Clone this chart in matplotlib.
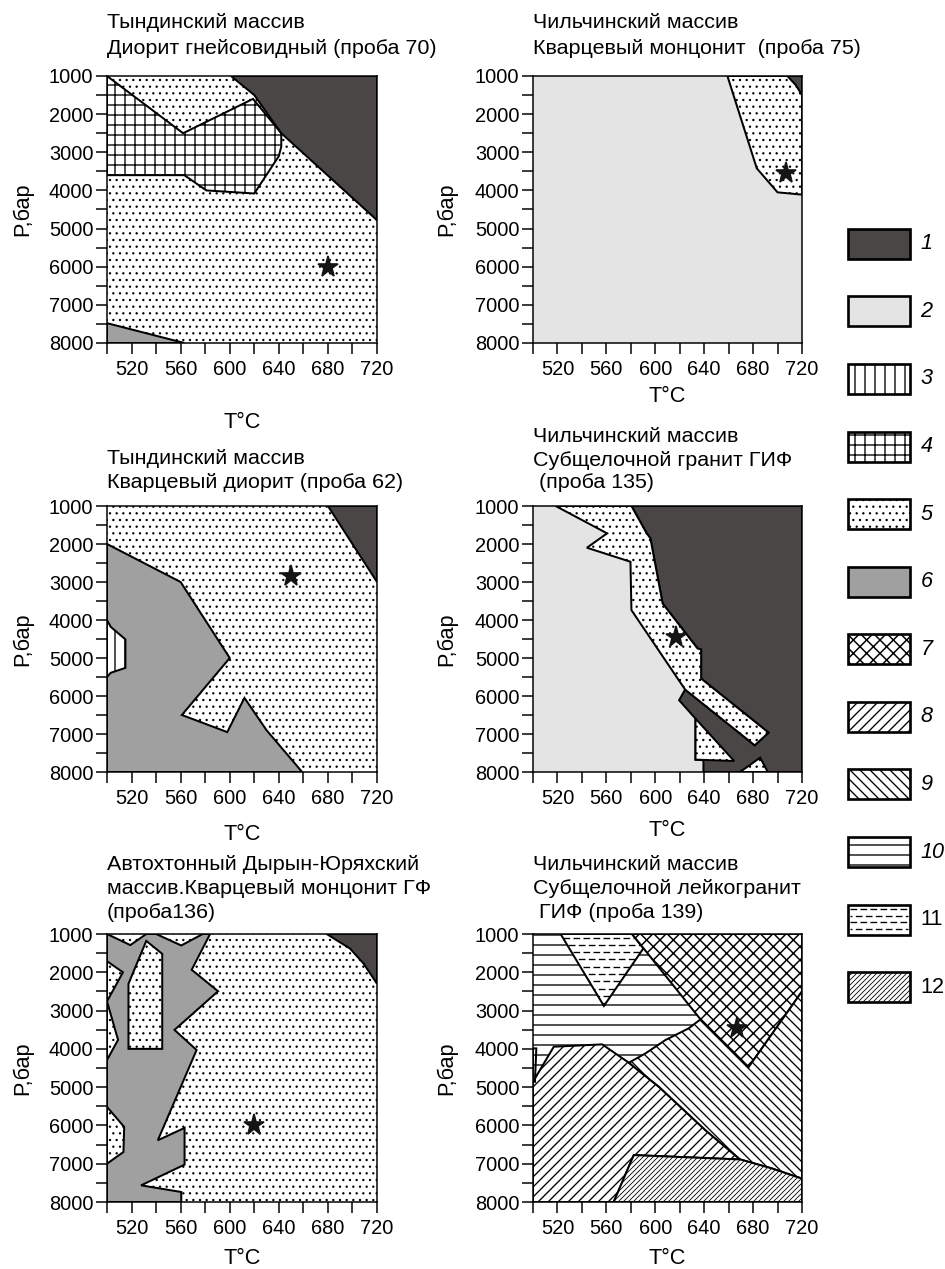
import numpy as np
import matplotlib
matplotlib.use("Agg")
import matplotlib.pyplot as plt
from matplotlib.patches import Polygon, Rectangle

plt.rcParams["font.family"] = ["Liberation Sans", "DejaVu Sans"]
plt.rcParams["hatch.color"] = "black"
plt.rcParams["hatch.linewidth"] = 0.8

W, H, DPI = 945, 1269, 120

# field styles of the legend (1..12)
legendKeys = list(range(1, 13))
styles = {
    1: dict(fc="#4a4646", hatch=None, hlw=0.8),
    2: dict(fc="#e4e4e4", hatch=None, hlw=0.8),
    3: dict(fc="white", hatch="||", hlw=0.8),
    4: dict(fc="white", hatch="++", hlw=0.8),
    5: dict(fc="white", hatch="...", hlw=0.6),
    6: dict(fc="#a0a0a0", hatch=None, hlw=0.8),
    7: dict(fc="white", hatch="xxx", hlw=0.9),
    8: dict(fc="white", hatch="////", hlw=0.8),
    9: dict(fc="white", hatch="\\\\\\\\", hlw=0.8),
    10: dict(fc="white", hatch="--", hlw=0.8),
    11: dict(fc="white", hatch=None, hlw=0.8),
    12: dict(fc="white", hatch="////////", hlw=0.5),
}

tempTicks = list(range(500, 721, 20))
presTicks = list(range(1000, 8001, 500))
fullBox = [(500, 1000), (720, 1000), (720, 8000), (500, 8000)]

# ---- panel 1: Тындинский, проба 70 (background = 5)
p1_grid = [(500, 1000), (562, 2500), (619, 1600), (642, 2500), (642, 2850),
           (640, 3100), (620, 4080), (581, 4000), (563, 3600), (500, 3600)]
p1_dark = [(601, 1000), (620, 1500), (642, 2500), (720, 4780), (720, 1000)]
p1_gray = [(500, 7480), (563, 8000), (500, 8000)]
p1_star = (680, 6000)

# ---- panel 2: Чильчинский, проба 75 (background = 2)
p2_dots = [(659, 1000), (683, 3420), (700, 4050), (720, 4110), (720, 1000)]
p2_dark = [(708, 1000), (715, 1240), (720, 1500), (720, 1000)]
p2_star = (707, 3550)

# ---- panel 3: Тындинский, проба 62 (background = 5)
p3_dark = [(680, 1000), (720, 3000), (720, 1000)]
p3_gray = [(500, 2000), (560, 3000), (600, 5000), (561, 6500), (598, 6950),
           (612, 6050), (630, 6900), (659, 8000), (500, 8000)]
p3_vert = [(500, 4000), (503, 4180), (515, 4510), (515, 5260), (503, 5390), (500, 5500)]
p3_star = (650, 2830)

# ---- panel 4: Чильчинский, проба 135 (background = 2)
p4_dark = [(580.5, 1000), (593, 1720), (596, 1850), (606, 3565), (634.6, 4750),
           (637.5, 4776), (637.5, 5541), (692.7, 6964), (681.3, 7297), (624.4, 5830),
           (619.5, 6111), (632.9, 6595), (632.9, 7675), (639.4, 7692), (639.4, 8000),
           (720, 8000), (720, 1000)]
p4_band = [(518.5, 1000), (560.6, 1720), (544.1, 2098), (579.7, 2467), (580.5, 3740),
           (624.4, 5830), (681.3, 7297), (692.7, 6964), (637.5, 5541), (637.5, 4776),
           (634.6, 4750), (606, 3565), (596, 1850), (593, 1720), (580.5, 1000)]
p4_tri1 = [(632.9, 6595), (632.9, 7675), (664.5, 7710)]
p4_tri2 = [(669.3, 8000), (685.8, 7622), (692, 8000)]
p4_star = (617, 4450)

# ---- panel 5: Дырын-Юряхский, проба 136 (background = 5)
p5_gray = [(500, 1000), (519, 1290), (532, 1000), (540, 1000), (560.5, 1300), (578, 1000),
           (584, 1000), (569, 1935), (590.5, 2495), (555, 3505), (573, 4030),
           (541.4, 6388), (563.2, 6065), (563.2, 7024), (527.8, 7565), (560.5, 7739),
           (560.5, 8000), (500, 8000)]
p5_pocketA = [(500, 1710), (513, 2000), (500, 2760), (509, 3765), (500, 4290)]
p5_pocketB = [(517.5, 2300), (532, 1180), (545, 1520), (545, 4000), (517.5, 4000)]
p5_pocketC = [(500, 5516), (514, 6040), (513.4, 6693), (500, 7000)]
p5_dark = [(679, 1000), (698, 1380), (709, 1770), (720, 2300), (720, 1000)]
p5_star = (620, 6000)

# ---- panel 6: Чильчинский, проба 139 (background = 10)
p6_dash = [(522.6, 1000), (558, 2880), (590.3, 1375), (581, 1000)]
p6_cross = [(581, 1000), (637, 3230), (676.3, 4480), (720, 2500), (720, 1000)]
p6_r9 = [(578.4, 4362), (592, 4118), (608.3, 3770), (627.3, 3465), (637, 3230),
         (676.3, 4480), (720, 2500), (720, 7390), (695.4, 7124), (669.5, 6889),
         (641, 6122), (603, 4990)]
p6_r8 = [(500, 4860), (517, 3944), (556.6, 3883), (578.4, 4362), (603, 4990),
         (641, 6122), (669.5, 6889), (582.4, 6775), (566, 8000), (500, 8000)]
p6_r12 = [(566, 8000), (582.4, 6775), (669.5, 6889), (695.4, 7124), (720, 7390), (720, 8000)]
p6_notch = [(500, 3988), (502.7, 3988), (501.6, 4860), (500, 4860)]
p6_star = (667, 3450)

panels = [
    dict(rect=(107, 76, 377, 343), bg=5, xlab=422, ylabx=23,
         title=["Тындинский массив", "Диорит гнейсовидный (проба 70)"], ty=[23, 48],
         fields=[(p1_grid, 4), (p1_dark, 1), (p1_gray, 6)], star=p1_star),
    dict(rect=(533, 76, 802, 343), bg=2, xlab=397, ylabx=447,
         title=["Чильчинский массив", "Кварцевый монцонит  (проба 75)"], ty=[23, 48],
         fields=[(p2_dots, 5), (p2_dark, 1)], star=p2_star),
    dict(rect=(107, 506, 377, 772), bg=5, xlab=834, ylabx=23,
         title=["Тындинский массив", "Кварцевый диорит (проба 62)"], ty=[458, 482],
         fields=[(p3_dark, 1), (p3_gray, 6), (p3_vert, 3)], star=p3_star),
    dict(rect=(533, 506, 802, 772), bg=2, xlab=831, ylabx=447,
         title=["Чильчинский массив", "Субщелочной гранит ГИФ", " (проба 135)"], ty=[437, 460, 482],
         fields=[(p4_dark, 1), (p4_band, 5), (p4_tri1, 5), (p4_tri2, 5)], star=p4_star),
    dict(rect=(107, 934, 377, 1202), bg=5, xlab=1259, ylabx=23,
         title=["Автохтонный Дырын-Юряхский", "массив.Кварцевый монцонит ГФ", "(проба136)"],
         ty=[865, 888, 912],
         fields=[(p5_gray, 6), (p5_pocketA, 5), (p5_pocketB, 5), (p5_pocketC, 5), (p5_dark, 1)],
         star=p5_star),
    dict(rect=(533, 934, 802, 1202), bg=10, xlab=1259, ylabx=447,
         title=["Чильчинский массив", "Субщелочной лейкогранит", " ГИФ (проба 139)"],
         ty=[865, 888, 912],
         fields=[(p6_dash, 11), (p6_cross, 7), (p6_r8, 8), (p6_r9, 9), (p6_r12, 12), (p6_notch, 10)],
         star=p6_star),
]


def figRect(x0, y0, x1, y1):
    return [x0 / W, 1 - y1 / H, (x1 - x0) / W, (y1 - y0) / H]


def addDashes(ax, patch, pts, step, lo, hi):
    ys = [p[1] for p in pts]
    rows = np.arange(min(ys) + step / 2, max(ys), step)
    for k, y in enumerate(rows):
        off = 0 if k % 2 == 0 else 3.5
        lc = ax.hlines([y], lo, hi, colors="black", linewidth=0.8,
                       linestyles=[(off, (5, 2.5))], zorder=patch.get_zorder() + 0.01)
        lc.set_clip_path(patch)


def addField(ax, pts, kind, z, lw=1.2):
    st = styles[kind]
    poly = Polygon(pts, closed=True, facecolor=st["fc"], edgecolor="black",
                   hatch=st["hatch"], linewidth=lw, zorder=z, joinstyle="miter")
    if hasattr(poly, "set_hatch_linewidth"):
        poly.set_hatch_linewidth(st["hlw"])
    ax.add_patch(poly)
    if kind == 11:
        addDashes(ax, poly, pts, 190, 500, 720)
    return poly


fig = plt.figure(figsize=(W / DPI, H / DPI), dpi=DPI)

for pn in panels:
    x0, y0, x1, y1 = pn["rect"]
    ax = fig.add_axes(figRect(*pn["rect"]))
    ax.set_xlim(500, 720)
    ax.set_ylim(8000, 1000)
    addField(ax, fullBox, pn["bg"], 0.5, lw=0)
    for i, (pts, kind) in enumerate(pn["fields"]):
        addField(ax, pts, kind, 1 + i * 0.1)
    ax.plot([pn["star"][0]], [pn["star"][1]], marker="*", markersize=13,
            color="#151515", zorder=5)
    ax.set_xticks(tempTicks)
    ax.set_xticklabels([str(t) if (t - 520) % 40 == 0 else "" for t in tempTicks])
    ax.set_yticks(presTicks)
    ax.set_yticklabels([str(p) if p % 1000 == 0 else "" for p in presTicks])
    ax.tick_params(direction="out", length=6.6, width=0.9, labelsize=12,
                   colors="black")
    ax.tick_params(axis="x", pad=3.5)
    ax.tick_params(axis="y", pad=1.5)
    for sp in ax.spines.values():
        sp.set_linewidth(0.9)
        sp.set_zorder(6)
    for line, ty in zip(pn["title"], pn["ty"]):
        fig.text(x0 / W, 1 - ty / H, line, ha="left", va="center", fontsize=12.9)
    fig.text((x0 + x1) / 2 / W, 1 - pn["xlab"] / H, "T°C", ha="center", va="center",
             fontsize=13)
    fig.text(pn["ylabx"] / W, 1 - (y0 + y1) / 2 / H, "P,бар", ha="center", va="center",
             rotation=90, fontsize=13)

# legend column
lg = fig.add_axes(figRect(848, 210, 910, 1021))
lg.set_xlim(0, 1)
lg.set_ylim(12, 0)
lg.axis("off")
for i, k in enumerate(legendKeys):
    st = styles[k]
    box = Rectangle((0, i + 0.5 - 0.222), 1, 0.444, facecolor=st["fc"], edgecolor="black",
                    hatch=st["hatch"], linewidth=1.6, clip_on=False, zorder=2)
    if hasattr(box, "set_hatch_linewidth"):
        box.set_hatch_linewidth(st["hlw"])
    lg.add_patch(box)
    if k == 11:
        rows = np.arange(i + 0.5 - 0.16, i + 0.5 + 0.2, 0.1)
        for j, y in enumerate(rows):
            off = 0 if j % 2 == 0 else 3.5
            lc = lg.hlines([y], 0.03, 0.97, colors="black", linewidth=0.8,
                           linestyles=[(off, (5, 2.5))], zorder=3)
    lg.text(1.17, i + 0.5, str(k), ha="left", va="center", fontsize=13,
            style="italic" if k <= 10 else "normal", clip_on=False)

fig.savefig("out.png", dpi=DPI)
